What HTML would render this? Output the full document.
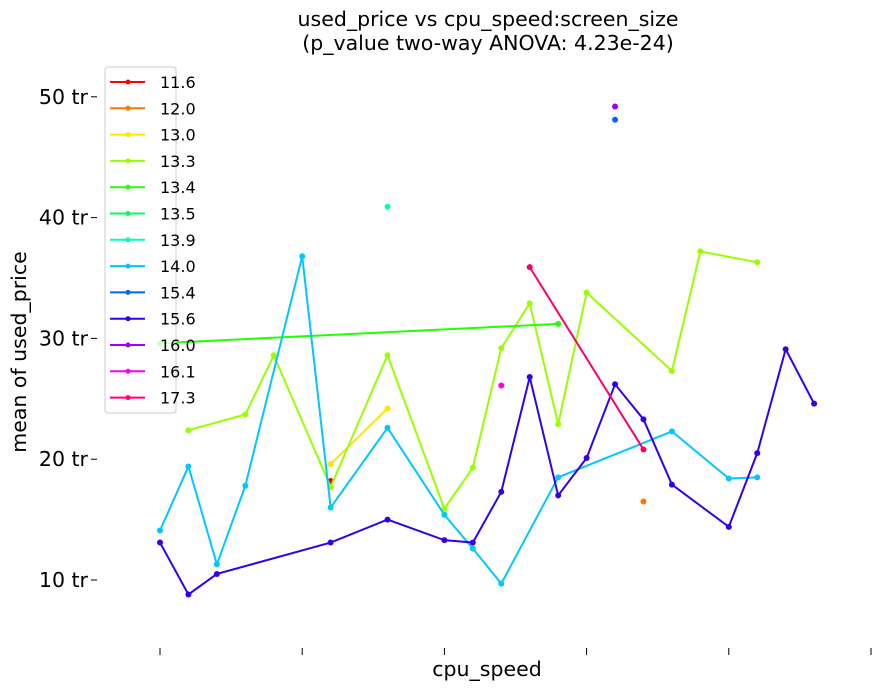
<!DOCTYPE html>
<html><head><meta charset="utf-8"><style>
body{margin:0;background:#fff;}
svg{display:block;font-family:"DejaVu Sans","Liberation Sans",sans-serif;}
</style></head><body>
<svg id="chart" width="889" height="690" xmlns="http://www.w3.org/2000/svg">
<text x="488" y="26" font-size="20.5" text-anchor="middle">used_price vs cpu_speed:screen_size</text>
<text x="488" y="50" font-size="20.5" text-anchor="middle">(p_value two-way ANOVA: 4.23e-24)</text>
<text transform="translate(26,352) rotate(-90)" font-size="20.5" text-anchor="middle">mean of used_price</text>
<text x="487" y="676" font-size="20.5" text-anchor="middle">cpu_speed</text>
<g id="axes"></g><g id="marks"></g><g id="legend"></g>
</svg>
<script>
const yTicks=[10,20,30,40,50];
const yTickLabels=["10 tr","20 tr","30 tr","40 tr","50 tr"];
const xTicks=[0,5,10,15,20,25];
const seriesNames=["11.6","12.0","13.0","13.3","13.4","13.5","13.9","14.0","15.4","15.6","16.0","16.1","17.3"];
const seriesColors=["#ff0000","#ff7700","#ffe600","#99ff00","#22ff00","#00ff55","#00ffbb","#00c8ff","#0066ff","#3300ee","#9900ff","#ff00ee","#ff0066"];
const s116x=[6],s116y=[18.2];
const s120x=[17],s120y=[16.5];
const s130x=[6,8],s130y=[19.6,24.2];
const s133x=[1,3,4,6,8,10,11,12,13,14,15,18,19,21];
const s133y=[22.4,23.7,28.6,17.7,28.6,15.9,19.3,29.2,32.9,22.9,33.8,27.3,37.2,36.3];
const s134x=[0,14],s134y=[29.6,31.2];
const s135x=[],s135y=[];
const s139x=[8],s139y=[40.9];
const s140x=[0,1,2,3,5,6,8,10,11,12,14,18,20,21];
const s140y=[14.1,19.4,11.3,17.8,36.8,16.0,22.6,15.4,12.6,9.7,18.5,22.3,18.4,18.5];
const s154x=[16],s154y=[48.1];
const s156x=[0,1,2,6,8,10,11,12,13,14,15,16,17,18,20,21,22,23];
const s156y=[13.1,8.8,10.5,13.1,15.0,13.3,13.1,17.3,26.8,17.0,20.1,26.2,23.3,17.9,14.4,20.5,29.1,24.6];
const s160x=[16],s160y=[49.2];
const s161x=[12],s161y=[26.1];
const s173x=[13,17],s173y=[35.9,20.8];
const allX=[s116x,s120x,s130x,s133x,s134x,s135x,s139x,s140x,s154x,s156x,s160x,s161x,s173x];
const allY=[s116y,s120y,s130y,s133y,s134y,s135y,s139y,s140y,s154y,s156y,s160y,s161y,s173y];
const NS="http://www.w3.org/2000/svg";
function X(i){return 160+i*28.44;}
function Y(v){return 580-(v-10)*12.08;}
function mk(t,a,p){const e=document.createElementNS(NS,t);for(const k in a)e.setAttribute(k,a[k]);p.appendChild(e);return e;}
const axes=document.getElementById('axes'),marks=document.getElementById('marks'),leg=document.getElementById('legend');
yTicks.forEach((v,i)=>{
 const l=mk('line',{x1:91,x2:97,y1:Y(v),y2:Y(v),stroke:'#000','stroke-width':1},axes);
 
 
 const t=mk('text',{x:88,y:Y(v)+7,'font-size':20.5,'text-anchor':'end'},axes);
 t.textContent=yTickLabels[i];
 
 
});
xTicks.forEach(i=>{
 const l=mk('line',{x1:X(i),x2:X(i),y1:648,y2:655,stroke:'#000','stroke-width':1},axes);
 
 
});
seriesNames.forEach((n,s)=>{
 const g=mk('g',{},marks);
 
 
 const xs=allX[s],ys=allY[s],c=seriesColors[s];
 if(xs.length>1){
  const pl=mk('polyline',{points:xs.map((x,k)=>X(x)+','+Y(ys[k])).join(' '),fill:'none',stroke:c,'stroke-width':2},g);
  
  
 }
 xs.forEach((x,k)=>{
  const p=mk('circle',{cx:X(x),cy:Y(ys[k]),r:3,fill:c},g);
  
  
 });
});
const box=mk('rect',{x:105,y:67,width:71,height:346,rx:3,fill:'#fff','fill-opacity':0.8,stroke:'#ccc'},leg);


seriesNames.forEach((n,s)=>{
 const y=82+s*26.3;
 const g=mk('g',{},leg);
 
 
 mk('line',{x1:110,x2:145,y1:y,y2:y,stroke:seriesColors[s],'stroke-width':2},g);
 mk('circle',{cx:128,cy:y,r:2.5,fill:seriesColors[s]},g);
 const t=mk('text',{x:160,y:y+6,'font-size':16},g);
 t.textContent=n;
});
</script>
</body></html>
